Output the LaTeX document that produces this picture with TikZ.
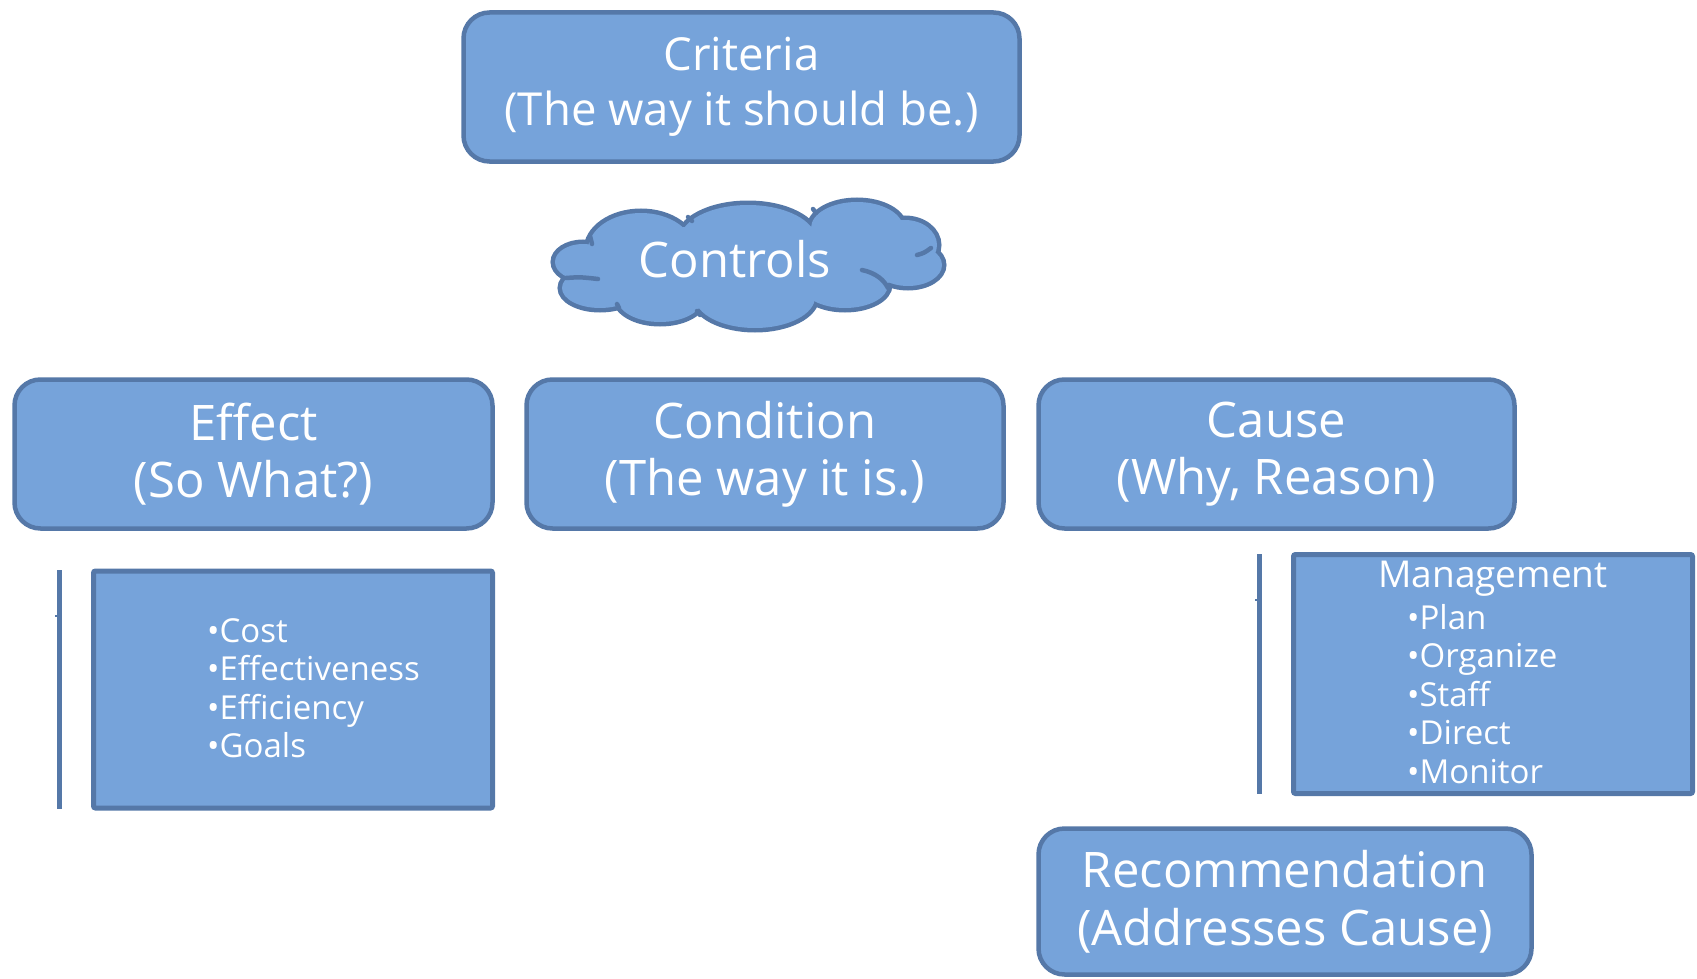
\documentclass[tikz,border=0pt]{standalone}
\usepackage{fontspec}
\setmainfont{Open Sans}
\definecolor{boxfill}{RGB}{118,163,218}
\definecolor{boxline}{RGB}{85,120,168}
\tikzset{
  card/.style={draw=boxline, fill=boxfill, line width=4.5pt, rounded corners=26pt,
    text=white, align=center, inner sep=0pt},
  panel/.style={draw=boxline, fill=boxfill, line width=5pt, rounded corners=2pt, inner sep=0pt},
  lbl/.style={text=white, inner sep=0pt},
  bar/.style={draw=boxline, line width=5pt},
  tick/.style={draw=boxline, line width=1.5pt},
  puffline/.style={draw=boxline, line width=4.5pt, line cap=round},
  bigtext/.style={font=\fontsize{49}{57}\selectfont},
  listtext/.style={font=\fontsize{33}{38.5}\selectfont, align=left},
}
% puffs of the cloud: centre x, centre y, x radius, y radius
\newcommand\cloudpuffs[1]{%
  \path[#1] (583,262) ellipse [x radius=28, y radius=18];
  \path[#1] (600,288) ellipse [x radius=38, y radius=20];
  \path[#1] (641,250) ellipse [x radius=53, y radius=37];
  \path[#1] (748,240) ellipse [x radius=68, y radius=35];
  \path[#1] (857,228) ellipse [x radius=46, y radius=26];
  \path[#1] (905,245) ellipse [x radius=32, y radius=25];
  \path[#1] (908,265) ellipse [x radius=34, y radius=21];
  \path[#1] (845,285) ellipse [x radius=43, y radius=23];
  \path[#1] (755,297) ellipse [x radius=60, y radius=31];
  \path[#1] (660,298) ellipse [x radius=43, y radius=24];
}
\begin{document}
\begin{tikzpicture}[x=1pt,y=-1pt]
\useasboundingbox (0,0) rectangle (1697,979);

% top criterion box
\node[card, minimum width=556pt, minimum height=149pt,
      font=\fontsize{45.5}{55}\selectfont] (criteria) at (741.5,87)
  {Criteria\\(The way it should be.)};

% cloud: outlined puffs, then filled again so only the outer outline stays
\cloudpuffs{draw=boxline, line width=9pt}
\cloudpuffs{fill=boxfill}
\fill[boxfill] (750,262) ellipse [x radius=165, y radius=38];
% inner fold strokes of the cloud
\draw[puffline] (566,278) .. controls (580,277) .. (598,279);
\draw[puffline] (862,270) .. controls (876,273) and (884,280) .. (888,288);
\draw[puffline] (917,255) .. controls (924,253) .. (931,248);
\draw[puffline] (590,236) -- (592,244);
\draw[puffline] (688,217) -- (692,221);
\draw[puffline] (813,209) -- (816,213);
\draw[puffline] (617,304) -- (619,308);
\draw[puffline] (697,311) -- (700,315);
\node[lbl, bigtext] (controls) at (735,259) {Controls};

% middle row
\node[card, bigtext, minimum width=478pt, minimum height=149pt] (effect) at (253.5,454)
  {Effect\\(So What?)};
\node[card, bigtext, minimum width=477pt, minimum height=149pt] (condition) at (765,454)
  {Condition\\(The way it is.)};
\node[card, bigtext, minimum width=476pt, minimum height=149pt] (cause) at (1276.5,454)
  {Cause\\(Why, Reason)};

% effect details
\coordinate (ebartop) at (59.5,570);
\coordinate (ebarbot) at (59.5,809);
\draw[bar] (ebartop) -- (ebarbot);
\coordinate (etick) at (55,616);
\draw[tick] (etick) -- ++(3,0);
\node[panel, minimum width=399pt, minimum height=237pt] (effpanel) at (293,689.5) {};
\node[lbl, listtext, anchor=west] (effitems) at (207,688)
  {•Cost\\•Effectiveness\\•Efficiency\\•Goals};

% cause details
\coordinate (cbartop) at (1259.5,554);
\coordinate (cbarbot) at (1259.5,794);
\draw[bar] (cbartop) -- (cbarbot);
\coordinate (ctick) at (1255,600);
\draw[tick] (ctick) -- ++(3,0);
\node[panel, minimum width=399pt, minimum height=239pt] (mgmt) at (1493,674) {};
\node[lbl, font=\fontsize{37}{40}\selectfont] (mgmttitle) at (1493,579) {Management};
\node[lbl, listtext, anchor=west] (mgmtitems) at (1407,694)
  {•Plan\\•Organize\\•Staff\\•Direct\\•Monitor};

% recommendation
\node[card, font=\fontsize{49}{58}\selectfont, minimum width=493pt, minimum height=146pt]
  (recommend) at (1285,901.5) {Recommendation\\(Addresses Cause)};
\end{tikzpicture}
\end{document}
